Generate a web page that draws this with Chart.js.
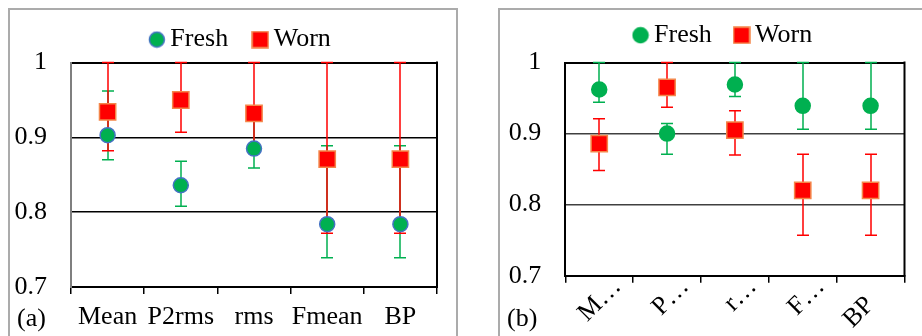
<!DOCTYPE html>
<html>
<head>
<meta charset="utf-8">
<script src="https://cdn.jsdelivr.net/npm/chart.js@4.4.1/dist/chart.umd.min.js"></script>
<style>
  body { margin: 0; background: #fff; width: 922px; height: 336px; overflow: hidden; position: relative; }
  .frame { position: absolute; box-sizing: border-box; border: 2px solid #ababab; }
  canvas { position: absolute; }
  .tag { position: absolute; font: 26px 'Liberation Serif', 'Times New Roman', serif; line-height: 26px; color: #000; }
</style>
</head>
<body>
<div class="frame" style="left:8px;top:8px;width:450px;height:340px"></div>
<div class="frame" style="left:498px;top:8px;width:440px;height:340px"></div>
<canvas id="chartA" width="446" height="326" style="left:10px;top:10px"></canvas>
<canvas id="chartB" width="422" height="326" style="left:500px;top:10px"></canvas>
<div class="tag" style="left:17px;top:305px">(a)</div>
<div class="tag" style="left:507px;top:305px">(b)</div>
<script>
const categories = ['Mean', 'P2rms', 'rms', 'Fmean', 'BP'];
const yTickValues = [0.7, 0.8, 0.9, 1];

// panel (a)
const freshA     = [0.903, 0.836, 0.885, 0.784, 0.784];
const freshLowA  = [0.870, 0.808, 0.859, 0.739, 0.739];
const freshHighA = [0.962, 0.868, 0.935, 0.889, 0.889];
const wornA      = [0.934, 0.950, 0.932, 0.871, 0.871];
const wornLowA   = [0.882, 0.907, 0.885, 0.772, 0.772];
const wornHighA  = [1, 1, 1, 1, 1];

// panel (b)
const freshB     = [0.962, 0.900, 0.969, 0.939, 0.939];
const freshLowB  = [0.944, 0.871, 0.952, 0.906, 0.906];
const freshHighB = [1, 0.914, 1, 1, 1];
const wornB      = [0.886, 0.965, 0.905, 0.820, 0.820];
const wornLowB   = [0.848, 0.937, 0.870, 0.757, 0.757];
const wornHighB  = [0.921, 1, 0.932, 0.871, 0.871];

const GREEN = '#00B050';
const RED = '#FF0000';
const FONT = "'Liberation Serif', 'Times New Roman', serif";

Chart.defaults.font.family = FONT;
Chart.defaults.color = '#000';

// little legend icons
function circleIcon(border) {
  const c = document.createElement('canvas');
  c.width = 18; c.height = 18;
  const g = c.getContext('2d');
  g.beginPath();
  g.arc(9, 9, 7.5, 0, Math.PI * 2);
  g.fillStyle = GREEN;
  g.fill();
  g.lineWidth = 1.5;
  g.strokeStyle = border;
  g.stroke();
  return c;
}
function squareIcon() {
  const c = document.createElement('canvas');
  c.width = 18; c.height = 18;
  const g = c.getContext('2d');
  g.fillStyle = RED;
  g.fillRect(1, 1, 16, 16);
  g.lineWidth = 1.5;
  g.strokeStyle = '#F4864A';
  g.strokeRect(1, 1, 16, 16);
  return c;
}

// long names get cut to "X…"; short ones are padded so they sit like Excel's
const shorten = s => (s.length > 2 ? s[0] + '\u2026' : s + '    ');

// y labels sit left of the (narrow) y axis box, so widen its label clip
const labelRoom = {
  id: 'labelRoom',
  afterLayout(chart) { chart.scales.y.left = 0; }
};

// error bars + right side of the frame, drawn under the markers
const errorBars = {
  id: 'errorBars',
  beforeDatasetsDraw(chart) {
    const { ctx, chartArea, scales: { x, y } } = chart;
    ctx.save();
    ctx.strokeStyle = '#000';
    ctx.lineWidth = 2;
    ctx.beginPath();
    ctx.moveTo(chartArea.right, chartArea.top - 1);
    ctx.lineTo(chartArea.right, chartArea.bottom + 1);
    ctx.stroke();

    ctx.lineWidth = 1.5;
    chart.data.datasets.forEach(ds => {
      ctx.strokeStyle = ds.errColor;
      ds.data.forEach((v, i) => {
        const px = Math.round(x.getPixelForValue(i));
        const lo = y.getPixelForValue(ds.errLow[i]);
        const hi = y.getPixelForValue(ds.errHigh[i]);
        ctx.beginPath();
        ctx.moveTo(px, lo); ctx.lineTo(px, hi);
        ctx.moveTo(px - 6, lo); ctx.lineTo(px + 6, lo);
        ctx.moveTo(px - 6, hi); ctx.lineTo(px + 6, hi);
        ctx.stroke();
      });
    });
    ctx.restore();
  }
};

function makeChart(id, cfg) {
  const icons = [circleIcon(cfg.freshBorder), squareIcon()];
  return new Chart(document.getElementById(id), {
    type: 'line',
    data: {
      labels: categories,
      datasets: [
        {
          label: 'Fresh', data: cfg.fresh, errLow: cfg.freshLow, errHigh: cfg.freshHigh, errColor: GREEN,
          showLine: false, pointStyle: 'circle', pointRadius: 7.5, pointHoverRadius: 7.5,
          pointBackgroundColor: GREEN, pointBorderColor: cfg.freshBorder, pointBorderWidth: 1.5
        },
        {
          label: 'Worn', data: cfg.worn, errLow: cfg.wornLow, errHigh: cfg.wornHigh, errColor: RED,
          showLine: false, pointStyle: 'rect', pointRadius: 11.5, pointHoverRadius: 11.5,
          pointBackgroundColor: RED, pointBorderColor: '#F4864A', pointBorderWidth: 1.5
        }
      ]
    },
    options: {
      responsive: false,
      animation: false,
      layout: { padding: cfg.padding },
      plugins: {
        tooltip: { enabled: false },
        legend: {
          position: 'top',
          labels: {
            usePointStyle: true,
            boxWidth: 1,
            padding: cfg.legendGap,
            color: '#000',
            font: { family: FONT, size: 26 },
            generateLabels: chart => chart.data.datasets.map((ds, i) => ({
              text: ds.label, pointStyle: icons[i], datasetIndex: i,
              lineWidth: 0, hidden: false, fontColor: '#000'
            }))
          }
        },
        // empty spacer between legend and plot
        subtitle: { display: cfg.spacer > 0, text: '', weight: 500, padding: 0, font: { size: cfg.spacer || 1, lineHeight: 1 } }
      },
      scales: {
        x: {
          type: 'category',
          offset: true,
          grid: { offset: true, drawOnChartArea: false, drawTicks: true, tickLength: 7, color: '#000', lineWidth: 1.5 },
          border: { display: true, color: '#000', width: 2 },
          ticks: {
            autoSkip: false,
            minRotation: cfg.rotation,
            maxRotation: cfg.rotation,
            padding: cfg.xPad,
            labelOffset: cfg.xShift,
            color: '#000',
            font: { family: FONT, size: 26 },
            callback: function (v) {
              const s = this.getLabelForValue(v);
              return cfg.shortLabels ? shorten(s) : s;
            }
          },
          afterFit: s => { s.height = cfg.xHeight; }
        },
        y: {
          min: 0.7,
          max: 1,
          afterBuildTicks: s => { s.ticks = yTickValues.map(v => ({ value: v })); },
          grid: {
            drawTicks: false,
            color: ctx => (ctx.tick && (ctx.tick.value === 1 || ctx.tick.value === 0.7)) ? '#000' : cfg.gridColor,
            lineWidth: ctx => (ctx.tick && (ctx.tick.value === 1 || ctx.tick.value === 0.7)) ? 2 : 1.5
          },
          border: { display: true, color: cfg.leftColor, width: 2 },
          ticks: {
            padding: 24,
            color: '#000',
            font: { family: FONT, size: 26 },
            callback: v => String(+v.toFixed(1))
          },
          afterFit: s => { s.width = cfg.yWidth; }
        }
      }
    },
    plugins: [errorBars, labelRoom]
  });
}

makeChart('chartA', {
  fresh: freshA, freshLow: freshLowA, freshHigh: freshHighA,
  worn: wornA, wornLow: wornLowA, wornHigh: wornHighA,
  freshBorder: '#4472C4', leftColor: '#7f7f7f', gridColor: '#000',
  padding: { left: 40.2, right: 19, top: -15, bottom: 0 },
  legendGap: 31.6, spacer: 0, yWidth: 20.8, xHeight: 49, xPad: 8, xShift: 0, rotation: 0, shortLabels: false
});

makeChart('chartB', {
  fresh: freshB, freshLow: freshLowB, freshHigh: freshHighB,
  worn: wornB, wornLow: wornLowB, wornHigh: wornHighB,
  freshBorder: GREEN, leftColor: '#000', gridColor: '#404040',
  padding: { left: 47.7, right: 17.5, top: -17, bottom: 0 },
  legendGap: 29.2, spacer: 4.3, yWidth: 17.6, xHeight: 60.3, xPad: -11, xShift: 18, rotation: 45, shortLabels: true
});
</script>
</body>
</html>
